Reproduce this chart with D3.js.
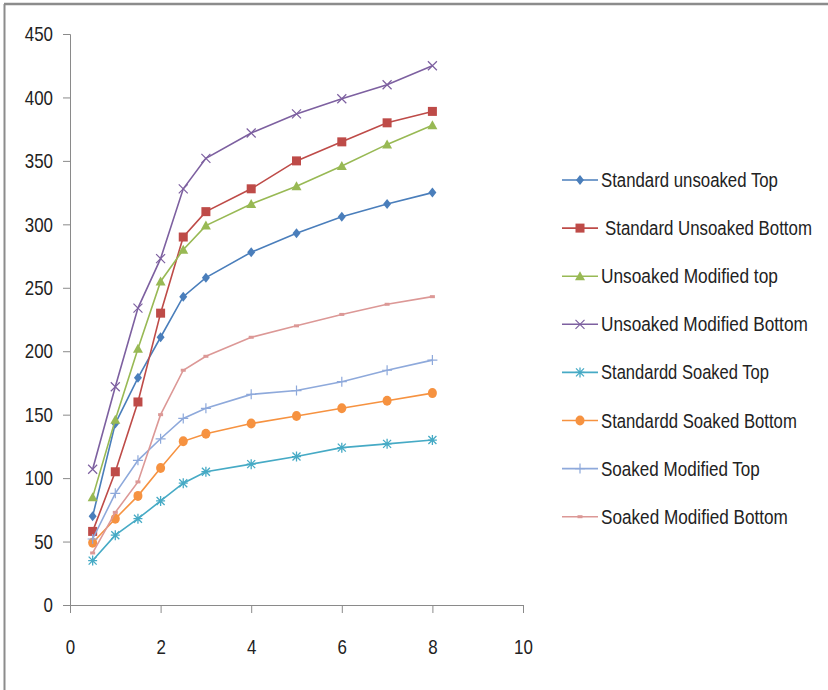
<!DOCTYPE html>
<html>
<head>
<meta charset="utf-8">
<script src="https://cdn.jsdelivr.net/npm/d3@7"></script>
<style>
  body { margin: 0; background: #fff; }
  text { font-family: "Liberation Sans Narrow", "Arial Narrow", "Liberation Sans", sans-serif; fill: #222; }
</style>
</head>
<body>
<script>
// depth / time values on the x axis
var xValues = [0.5, 1, 1.5, 2, 2.5, 3, 4, 5, 6, 7, 8];

var seriesNames = [
  "Standard unsoaked Top",
  " Standard Unsoaked Bottom",
  "Unsoaked Modified top",
  "Unsoaked Modified Bottom",
  "Standardd Soaked Top",
  "Standardd Soaked Bottom",
  "Soaked Modified Top",
  "Soaked Modified Bottom"
];

var stdUnsoakedTop       = [70, 143, 179, 211, 243, 258, 278, 293, 306, 316, 325];
var stdUnsoakedBottom    = [58, 105, 160, 230, 290, 310, 328, 350, 365, 380, 389];
var unsoakedModTop       = [85, 146, 202, 255, 280, 299, 316, 330, 346, 363, 378];
var unsoakedModBottom    = [107, 172, 234, 273, 328, 352, 372, 387, 399, 410, 425];
var stdSoakedTop         = [35, 55, 68, 82, 96, 105, 111, 117, 124, 127, 130];
var stdSoakedBottom      = [49, 68, 86, 108, 129, 135, 143, 149, 155, 161, 167];
var soakedModTop         = [52, 88, 114, 131, 147, 155, 166, 169, 176, 185, 193];
var soakedModBottom      = [41, 73, 97, 150, 185, 196, 211, 220, 229, 237, 243];

var xTicks = [0, 2, 4, 6, 8, 10];
var yTicks = [0, 50, 100, 150, 200, 250, 300, 350, 400, 450];

var allSeries = [stdUnsoakedTop, stdUnsoakedBottom, unsoakedModTop, unsoakedModBottom,
                 stdSoakedTop, stdSoakedBottom, soakedModTop, soakedModBottom];
var colors = ["#4a7ebb", "#be4b48", "#98b954", "#7d60a0", "#46aac5", "#f69240", "#8ea9db", "#dc9896"];
var markers = ["diamond", "square", "triangle", "x", "asterisk", "circle", "plus", "dash"];
// the original font is a condensed one, so legend texts get squeezed to these widths
var legendTextWidths = [177, 207, 177, 207, 168, 196, 159, 187];

var svg = d3.select("body").append("svg")
  .attr("width", 828)
  .attr("height", 690);

// frame (top and left only)
svg.append("line").attr("x1", 4).attr("x2", 828).attr("y1", 4).attr("y2", 4)
  .attr("stroke", "#8c8c8c").attr("stroke-width", 2.5);
svg.append("line").attr("x1", 4.5).attr("x2", 4.5).attr("y1", 4).attr("y2", 690)
  .attr("stroke", "#8c8c8c").attr("stroke-width", 2);

var x = d3.scaleLinear().domain([0, 10]).range([70, 523]);
var y = d3.scaleLinear().domain([0, 450]).range([605, 34]);

var yAxis = svg.append("g")
  .attr("transform", "translate(70,0)")
  .call(d3.axisLeft(y).tickValues(yTicks).tickSize(7).tickPadding(10));
var xAxis = svg.append("g")
  .attr("transform", "translate(0,605)")
  .call(d3.axisBottom(x).tickValues(xTicks).tickSize(8).tickPadding(26));

[xAxis, yAxis].forEach(function(a) {
  a.select(".domain").attr("stroke", "#8a8a8a");
  a.selectAll(".tick line").attr("stroke", "#8a8a8a");
  a.selectAll(".tick text").attr("font-size", "21px")
    .attr("font-family", "\"Liberation Sans Narrow\", \"Arial Narrow\", \"Liberation Sans\", sans-serif")
    .attr("fill", "#222")
    .attr("lengthAdjust", "spacingAndGlyphs")
    .attr("textLength", function(d) { return String(d).length * 9.4; });
});

function drawMarker(g, type, color, cx, cy) {
  if (type == "diamond") {
    g.append("path").attr("d", "M0,-5L4,0L0,5L-4,0Z")
      .attr("transform", "translate(" + cx + "," + cy + ")").attr("fill", color);
  } else if (type == "square") {
    g.append("rect").attr("x", cx - 4.5).attr("y", cy - 4.5).attr("width", 9).attr("height", 9)
      .attr("fill", color);
  } else if (type == "triangle") {
    g.append("path").attr("d", "M0,-5L5,4L-5,4Z")
      .attr("transform", "translate(" + cx + "," + cy + ")").attr("fill", color);
  } else if (type == "x") {
    g.append("path").attr("d", "M-4.5,-4.5L4.5,4.5M-4.5,4.5L4.5,-4.5")
      .attr("transform", "translate(" + cx + "," + cy + ")").attr("stroke", color).attr("stroke-width", 1.2);
  } else if (type == "asterisk") {
    g.append("path").attr("d", "M-4,-4L4,4M-4,4L4,-4M0,-5L0,5M-4.5,0L4.5,0")
      .attr("transform", "translate(" + cx + "," + cy + ")").attr("stroke", color).attr("stroke-width", 1.3);
  } else if (type == "circle") {
    g.append("ellipse").attr("cx", cx).attr("cy", cy).attr("rx", 4.5).attr("ry", 5)
      .attr("fill", color);
  } else if (type == "plus") {
    g.append("path").attr("d", "M-5,0L5,0M0,-5L0,5")
      .attr("transform", "translate(" + cx + "," + cy + ")").attr("stroke", color).attr("stroke-width", 1.2);
  } else if (type == "dash") {
    g.append("rect").attr("x", cx - 2.5).attr("y", cy - 1.5).attr("width", 5).attr("height", 3)
      .attr("fill", color);
  }
}

var line = d3.line()
  .x(function(d, i) { return x(xValues[i]); })
  .y(function(d) { return y(d); });

allSeries.forEach(function(vals, s) {
  var g = svg.append("g");
  g.append("path")
    .attr("d", line(vals))
    .attr("fill", "none")
    .attr("stroke", colors[s])
    .attr("stroke-width", 1.6);
  vals.forEach(function(v, i) {
    drawMarker(g, markers[s], colors[s], x(xValues[i]), y(v));
  });
});

// legend
var legend = svg.append("g");
seriesNames.forEach(function(name, i) {
  var ly = 180 + i * 48.1;
  var g = legend.append("g");
  g.append("line").attr("x1", 562).attr("x2", 598).attr("y1", ly).attr("y2", ly)
    .attr("stroke", colors[i]).attr("stroke-width", 1.6);
  drawMarker(g, markers[i], colors[i], 580, ly);
  // a leading space in the name just pushes the text a little to the right
  var indent = name.charAt(0) == " " ? 4 : 0;
  var tg = g.append("g");
  var t = tg.append("text")
    .attr("x", 0)
    .attr("y", 0)
    .attr("font-size", "19.5px")
    .text(name.trim());
  var sx = legendTextWidths[i] / t.node().getComputedTextLength();
  tg.attr("transform", "translate(" + (601 + indent) + "," + (ly + 7) + ") scale(" + sx + ",1)");
});
</script>
</body>
</html>
